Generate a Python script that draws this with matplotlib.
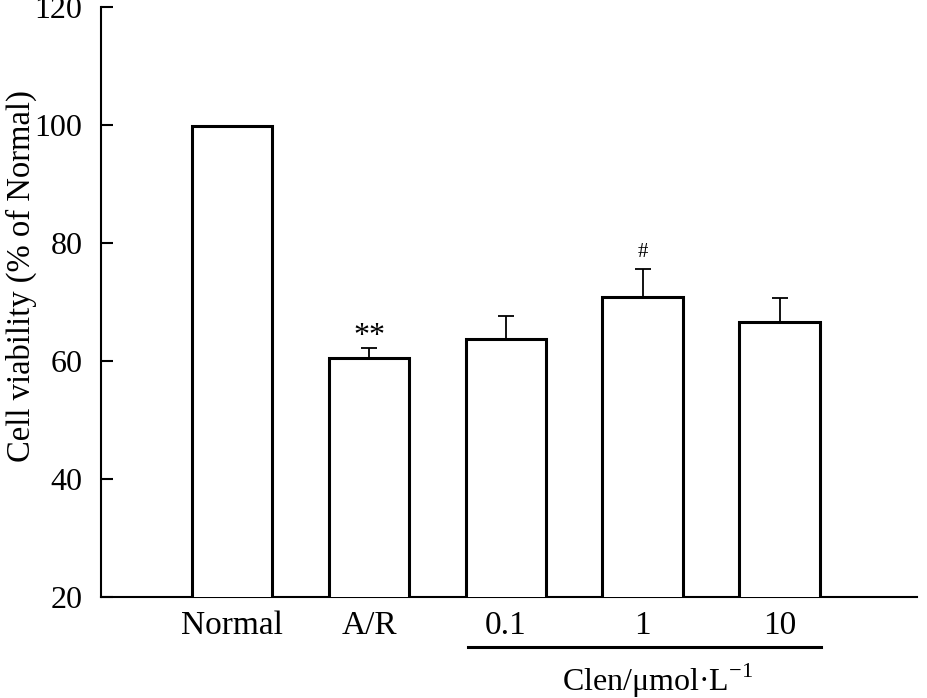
import matplotlib.pyplot as plt
import numpy as np

plt.rcParams['font.family'] = ['Liberation Serif', 'DejaVu Serif']
plt.rcParams['mathtext.fontset'] = 'custom'
plt.rcParams['mathtext.rm'] = 'Liberation Serif'

# data
groups = ['Normal', 'A/R', '0.1', '1', '10']
viability = [99.8, 60.5, 63.7, 70.8, 66.6]
sem = [0.0, 1.6, 3.9, 4.8, 4.1]
marks = ['', '**', '', '#', '']

fig = plt.figure(figsize=(9.27, 6.98), dpi=100)
ax = fig.add_axes([0.109, 0.145, 0.88, 0.845])

x = np.arange(len(groups))
ax.bar(x, viability, width=0.59, bottom=0, color='white', edgecolor='black',
       linewidth=2.2, zorder=3)
ax.errorbar(x, viability, yerr=[np.zeros(len(sem)), sem], fmt='none',
            ecolor='black', elinewidth=1.3, capsize=5.5, capthick=1.3, zorder=2)

# significance marks
for xi, v, e, m in zip(x, viability, sem, marks):
    if m == '**':
        ax.text(xi, v + e - 0.4, m, ha='center', va='bottom', fontsize=23)
    elif m:
        ax.text(xi, v + e + 1.2, m, ha='center', va='bottom', fontsize=15)

ax.set_ylim(20, 120)
ax.set_xlim(-0.956, 5.0)
ax.set_yticks([20, 40, 60, 80, 100, 120])
ax.set_xticks(x)
ax.set_xticklabels(groups)
ax.tick_params(axis='y', direction='in', length=8.6, width=1.5, labelsize=23, pad=13.5)
ax.tick_params(axis='x', length=0, labelsize=24, pad=10)
ax.spines['top'].set_visible(False)
ax.spines['right'].set_visible(False)
ax.spines['left'].set_linewidth(1.5)
ax.spines['bottom'].set_linewidth(1.5)
ax.set_ylabel('Cell viability (% of Normal)', fontsize=23.5)
ax.yaxis.set_label_coords(-0.078, 0.544)

# group line under the Clen doses
trans = ax.get_xaxis_transform()
ax.plot([1.72, 4.3], [-0.0855, -0.0855], color='black', lw=2.2,
        transform=trans, clip_on=False)
ax.text(3.11, -0.142, 'Clen/μmol·L$^{\\mathregular{-1}}$', ha='center', va='center',
        fontsize=23, transform=trans)

fig.savefig('out.png', dpi=100)
